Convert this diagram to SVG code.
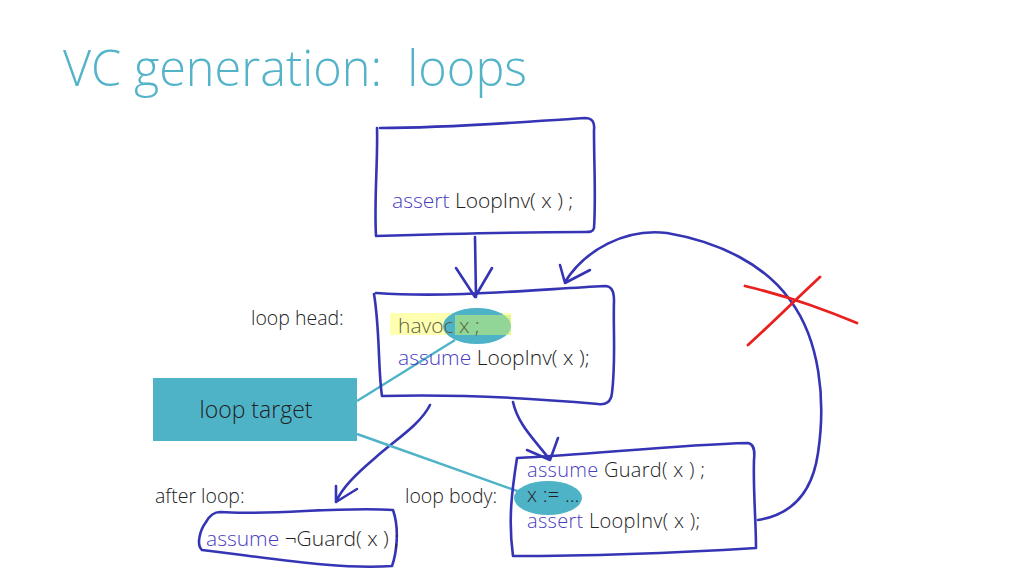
<svg xmlns="http://www.w3.org/2000/svg" width="1024" height="576" viewBox="0 0 1024 576">
<style>
.ink{fill:none;stroke:#3434b4;stroke-width:2.6;stroke-linecap:round;stroke-linejoin:round}
.red{fill:none;stroke:#e8201e;stroke-width:2.8;stroke-linecap:round}
.tl{fill:none;stroke:#4fb3c8;stroke-width:2.4}
.t{font-family:"Open Sans",Lato,sans-serif;font-weight:300;font-size:21px;fill:#222;font-variant-ligatures:none}
.lb{font-size:19.5px}
.bd{font-size:20px;letter-spacing:0.3px}
.kw{fill:#4a40bf}
.title{font-family:"Open Sans",Lato,sans-serif;font-weight:300;font-size:50px;fill:#53b3c8;font-variant-ligatures:none;white-space:pre}
</style>
<rect width="1024" height="576" fill="#fff"/>
<text class="title" x="63" y="86" textLength="464" lengthAdjust="spacingAndGlyphs" xml:space="preserve">VC generation:  loops</text>

<g id="connectors">
<path class="ink" d="M475,237 L476,297 M456,268 L475,297 L492,268"/>
<path class="ink" d="M430,405 C420,425 395,440 375,458 C355,475 342,488 336,502 M336,486 L336,502 L357,489"/>
<path class="ink" d="M513,402 C518,425 535,440 550,460 M527,450 L550,460 L558,438"/>
<path class="ink" d="M758,520 C790,515 812,495 818,453 C826,400 820,340 790,300 C765,265 720,242 667,233 C625,228 585,250 565,282 M560,265 L565,283 L590,270"/>
<path class="tl" d="M357,401 L455,340 M357,434 L520,492"/>
</g>

<g id="box-assert">
<path class="ink" d="M380,128 C450,128 520,122 585,118 C592,118 595,122 594,130 C594,165 596,200 594,228 C593,232 590,232 585,232 C520,232 440,234 376,236 C374,200 378,160 377,128"/>
<text class="t" x="392" y="208"><tspan class="kw">assert</tspan> LoopInv( x ) ;</text>
</g>

<g id="box-loophead">
<path class="ink" d="M376,293 C450,298 530,290 605,286 C612,286 614,292 614,300 C613,330 616,360 612,393 C611,402 606,405 598,404 C530,398 450,394 382,396 C378,370 380,330 374,294"/>
<rect x="390" y="313" width="121" height="22" fill="#ffff66" opacity="0.5"/>
<ellipse cx="477" cy="326" rx="34" ry="18" fill="#4fb3c8"/>
<rect x="455" y="315" width="56" height="20" fill="#c8f070" opacity="0.55"/>
<text class="t" x="398" y="333" style="fill:#5e5e3e">havoc x ;</text>
<text class="t" x="398" y="365"><tspan class="kw">assume</tspan> LoopInv( x );</text>
<text class="t lb" x="251" y="325">loop head:</text>
</g>

<g id="loop-target">
<rect x="153" y="378" width="204" height="63" fill="#4fb3c8"/>
<text class="t" x="256" y="418" text-anchor="middle" style="font-size:23px">loop target</text>
</g>

<g id="box-body">
<path class="ink" d="M517,458 C590,455 670,445 748,443 C754,444 755,450 754,460 C753,490 756,520 756,548 C690,552 600,556 513,556 C508,520 512,490 517,458"/>
<ellipse cx="548" cy="498" rx="34" ry="17" fill="#4fb3c8"/>
<text class="t bd" x="527" y="477"><tspan class="kw">assume</tspan> Guard( x ) ;</text>
<text class="t bd" x="527" y="502">x := …</text>
<text class="t bd" x="527" y="528"><tspan class="kw">assert</tspan> LoopInv( x );</text>
<text class="t lb" x="405" y="503">loop body:</text>
</g>

<g id="box-after">
<path class="ink" d="M220,512 C270,516 340,506 393,510 C400,530 396,555 392,566 C340,570 270,558 202,550 C196,545 200,530 206,522 C210,515 215,512 220,512"/>
<text class="t" x="206" y="546"><tspan class="kw">assume</tspan> ¬Guard( x ) ;</text>
<text class="t lb" x="155" y="503">after loop:</text>
</g>

<g id="red-x">
<path class="red" d="M745,286 C770,292 790,298 810,305 C830,312 845,318 857,323 M748,345 C770,325 790,305 820,277"/>
</g>
</svg>
